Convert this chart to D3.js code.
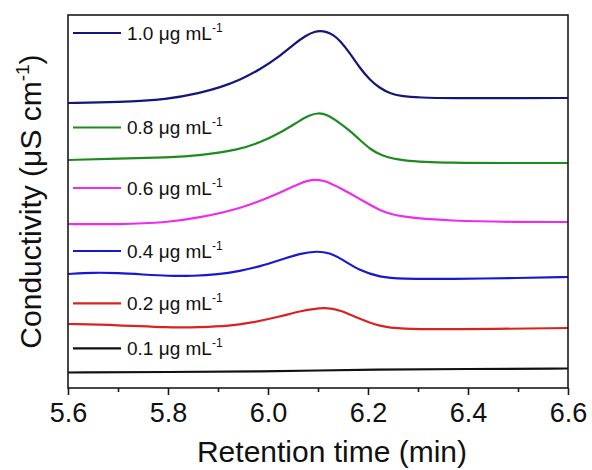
<!DOCTYPE html>
<html>
<head>
<meta charset="utf-8">
<script src="https://cdn.jsdelivr.net/npm/d3@7"></script>
<style>
  html, body { margin: 0; padding: 0; background: #fff; }
  svg { display: block; font-family: "Liberation Sans", Arial, Helvetica, sans-serif; }
</style>
</head>
<body>
<svg id="chart" width="592" height="470"></svg>
<script>
// ---- data (retention time in min, conductivity in arbitrary offset units) ----
const concentrations = ["1.0", "0.8", "0.6", "0.4", "0.2", "0.1"];
const seriesColors = ["#14167a", "#1f8a1f", "#ee2cee", "#1818d0", "#d92323", "#111111"];
const legendLevels = [35.5, 26.05, 20.0, 13.7, 8.47, 3.97];

const time10 = [5.60, 5.70, 5.80, 5.864, 5.904, 5.944, 5.984, 6.024, 6.051, 6.077, 6.094, 6.104, 6.117, 6.131, 6.144, 6.164, 6.184, 6.204, 6.224, 6.244, 6.264, 6.304, 6.364, 6.50, 6.60];
const cond10 = [28.5, 28.57, 28.85, 29.5, 30.05, 30.8, 31.85, 33.2, 34.35, 35.3, 35.65, 35.72, 35.62, 35.3, 34.73, 33.47, 31.97, 30.8, 29.97, 29.47, 29.2, 29.03, 28.97, 29.0, 29.0];

const time08 = [5.60, 5.70, 5.80, 5.864, 5.944, 5.984, 6.024, 6.064, 6.084, 6.10, 6.116, 6.144, 6.164, 6.184, 6.204, 6.224, 6.264, 6.364, 6.50, 6.60];
const cond08 = [22.8, 22.95, 23.05, 23.25, 23.85, 24.55, 25.5, 26.75, 27.3, 27.5, 27.4, 26.5, 25.7, 24.8, 23.9, 23.3, 22.7, 22.5, 22.5, 22.5];

const time06 = [5.60, 5.70, 5.80, 5.864, 5.944, 6.024, 6.064, 6.092, 6.114, 6.144, 6.184, 6.224, 6.264, 6.364, 6.50, 6.60];
const cond06 = [16.4, 16.35, 16.55, 17.05, 17.9, 19.5, 20.5, 20.9, 20.75, 20.0, 18.9, 17.7, 17.1, 16.7, 16.6, 16.6];

const time04 = [5.60, 5.65, 5.70, 5.75, 5.80, 5.85, 5.90, 5.944, 5.984, 6.024, 6.064, 6.098, 6.124, 6.144, 6.184, 6.224, 6.264, 6.364, 6.504, 6.60];
const cond04 = [11.4, 11.55, 11.5, 11.35, 11.2, 11.2, 11.35, 11.7, 12.15, 12.8, 13.45, 13.7, 13.5, 13.0, 11.7, 11.1, 10.9, 10.9, 11.0, 11.1];

const time02 = [5.60, 5.70, 5.80, 5.864, 5.924, 5.964, 6.024, 6.064, 6.116, 6.144, 6.184, 6.224, 6.264, 6.364, 6.60];
const cond02 = [6.4, 6.3, 6.03, 6.07, 6.2, 6.5, 7.13, 7.7, 8.1, 7.8, 6.9, 6.15, 5.9, 5.85, 6.0];

const time01 = [5.60, 5.80, 6.00, 6.10, 6.20, 6.40, 6.60];
const cond01 = [1.55, 1.6, 1.65, 1.75, 1.85, 1.9, 1.95];

const times = [time10, time08, time06, time04, time02, time01];
const conds = [cond10, cond08, cond06, cond04, cond02, cond01];

const xTicks = [5.6, 5.8, 6.0, 6.2, 6.4, 6.6];
const xMinorTicks = [5.7, 5.9, 6.1, 6.3, 6.5];

// ---- layout ----
const svg = d3.select("#chart");
const margin = { left: 68, right: 24, top: 15, bottom: 82 };
const W = 592, H = 470;
const x = d3.scaleLinear().domain([5.6, 6.6]).range([margin.left, W - margin.right]);
const y = d3.scaleLinear().domain([0, 37.3]).range([H - margin.bottom, margin.top]);

const line = d3.line()
  .x(d => x(d[0]))
  .y(d => y(d[1]))
  .curve(d3.curveBasis);

// curves
concentrations.forEach((c, i) => {
  const pts = times[i].map((t, j) => [t, conds[i][j]]);
  svg.append("path")
    .attr("d", line(pts))
    .attr("fill", "none")
    .attr("stroke", seriesColors[i])
    .attr("stroke-width", 2.2)
    .attr("stroke-linejoin", "round");
});

// legend labels
concentrations.forEach((c, i) => {
  const ly = y(legendLevels[i]);
  svg.append("line")
    .attr("x1", 73).attr("x2", 121)
    .attr("y1", ly).attr("y2", ly)
    .attr("stroke", seriesColors[i]).attr("stroke-width", 2.2);
  const t = svg.append("text")
    .attr("x", 127).attr("y", ly + 6.5)
    .attr("font-size", 19)
    .attr("fill", "#111");
  t.append("tspan").text(c + " \u03bcg mL");
  t.append("tspan").attr("dy", -8).attr("font-size", 12).text("-1");
});

// frame
const x0 = margin.left, x1 = W - margin.right, y0 = margin.top, y1 = H - margin.bottom;
svg.append("rect")
  .attr("x", x0).attr("y", y0)
  .attr("width", x1 - x0).attr("height", y1 - y0)
  .attr("fill", "none").attr("stroke", "#1a1a1a").attr("stroke-width", 1.6);

// bottom axis
const xAxis = d3.axisBottom(x).tickValues(xTicks).tickFormat(d3.format(".1f")).tickSize(7).tickSizeOuter(0);
const gx = svg.append("g").attr("transform", `translate(0,${y1})`).call(xAxis);
gx.select(".domain").remove();
gx.selectAll(".tick line").attr("stroke", "#1a1a1a").attr("stroke-width", 1.6);
gx.selectAll(".tick text")
  .attr("font-size", 27).attr("font-family", "'Liberation Sans', Arial, sans-serif")
  .attr("fill", "#111").attr("dy", 0).attr("y", 34);

const xMinor = d3.axisBottom(x).tickValues(xMinorTicks).tickFormat("").tickSize(4).tickSizeOuter(0);
const gxm = svg.append("g").attr("transform", `translate(0,${y1})`).call(xMinor);
gxm.select(".domain").remove();
gxm.selectAll(".tick line").attr("stroke", "#1a1a1a").attr("stroke-width", 1.6);

// axis titles
svg.append("text")
  .attr("x", 332).attr("y", 462)
  .attr("text-anchor", "middle").attr("font-size", 30).attr("fill", "#111")
  .text("Retention time (min)");

const yt = svg.append("text")
  .attr("transform", `translate(41,${(y0 + y1) / 2}) rotate(-90)`)
  .attr("text-anchor", "middle").attr("font-size", 30).attr("fill", "#111");
yt.append("tspan").text("Conductivity (\u03bcS cm");
yt.append("tspan").attr("dy", -12).attr("font-size", 19).text("-1");
yt.append("tspan").attr("dy", 12).text(")");
</script>
</body>
</html>
